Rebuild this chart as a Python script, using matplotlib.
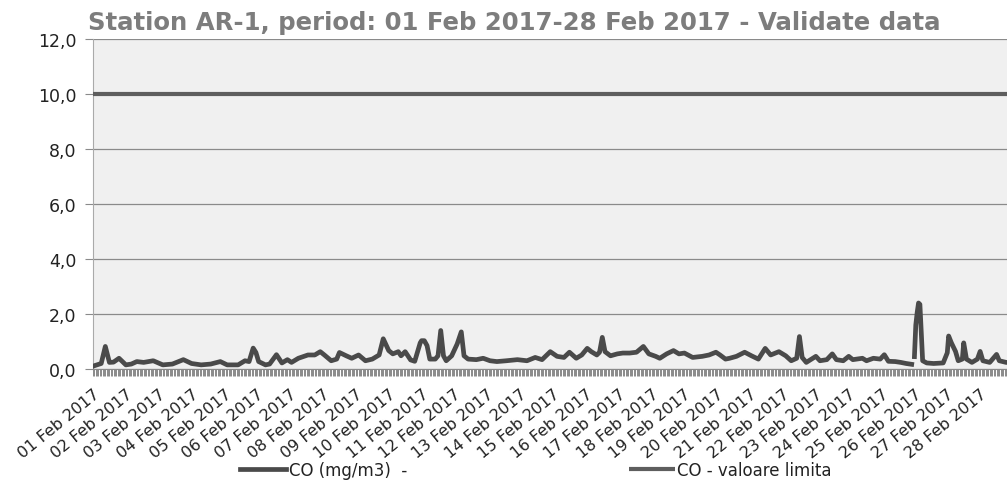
import matplotlib
matplotlib.use("Agg")
import matplotlib.pyplot as plt
import numpy as np

# ---------------- data ----------------
title = "Station AR-1, period: 01 Feb 2017-28 Feb 2017 - Validate data"

# hours since 01 Feb 2017 00:00 and CO concentration (mg/m3)
co_hours = [0, 1, 6, 9, 12, 15, 19, 24, 28, 32, 37, 44, 51, 58, 66, 72, 79, 86, 93, 98,
            106, 111, 114, 117, 119, 121, 126, 129, 134, 138, 142, 145, 150, 157, 162, 166,
            169, 174, 178, 180, 185, 189, 194, 199, 204, 209, 212, 216, 219, 223, 225, 228,
            232, 235, 239, 240, 242, 244, 246, 250, 252, 254, 256, 258, 262, 266, 269, 271,
            274, 280, 285, 290, 295, 302, 310, 317, 323, 328, 334, 339, 344, 348, 353, 357,
            361, 364, 368, 370, 372, 374, 378, 383, 387, 392, 397, 402, 406, 411, 414, 419,
            424, 428, 432, 438, 445, 450, 455, 458, 462, 465, 470, 476, 481, 486, 491, 495,
            501, 506, 510, 514, 516, 518, 521, 528, 531, 536, 540, 543, 548, 552, 555, 562,
            565, 570, 575, 578, 581, 586, 590, 594, 598, 599, 600, 601, 602, 603, 604, 605,
            606, 609, 614, 621, 624, 625, 627, 630, 632, 635, 636, 638, 642, 646, 648, 650,
            655, 660, 662, 667, 672]
co_values = [0.10, 0.12, 0.20, 0.82, 0.24, 0.25, 0.39, 0.15, 0.18, 0.27, 0.24, 0.30, 0.15, 0.18,
             0.34, 0.20, 0.15, 0.18, 0.27, 0.15, 0.15, 0.30, 0.27, 0.76, 0.60, 0.27, 0.15, 0.18,
             0.52, 0.22, 0.34, 0.24, 0.39, 0.51, 0.51, 0.63, 0.51, 0.30, 0.36, 0.60, 0.48, 0.39,
             0.51, 0.30, 0.36, 0.51, 1.10, 0.67, 0.55, 0.63, 0.48, 0.63, 0.33, 0.28, 0.95, 1.03,
             1.03, 0.85, 0.36, 0.36, 0.48, 1.40, 0.48, 0.30, 0.48, 0.91, 1.35, 0.48, 0.36, 0.34,
             0.39, 0.30, 0.27, 0.30, 0.34, 0.30, 0.42, 0.34, 0.63, 0.46, 0.42, 0.61, 0.39, 0.51,
             0.75, 0.63, 0.51, 0.61, 1.15, 0.63, 0.48, 0.55, 0.58, 0.58, 0.61, 0.82, 0.55, 0.46,
             0.39, 0.55, 0.67, 0.55, 0.58, 0.42, 0.46, 0.51, 0.61, 0.51, 0.36, 0.39, 0.46, 0.61,
             0.48, 0.36, 0.75, 0.51, 0.63, 0.48, 0.30, 0.39, 1.18, 0.42, 0.24, 0.46, 0.30, 0.34,
             0.55, 0.34, 0.30, 0.46, 0.34, 0.39, 0.30, 0.39, 0.36, 0.52, 0.28, 0.27, 0.24, 0.20,
             0.17, np.nan, 0.45, 1.60, 2.05, 2.40, 2.35, 1.30, 0.30, 0.22, 0.20, 0.22, 0.59, 1.20,
             0.95, 0.64, 0.30, 0.36, 0.95, 0.36, 0.24, 0.36, 0.64, 0.30, 0.24, 0.53, 0.30, 0.24,
             0.24]

limit_value = 10.0

day_labels = ["01 Feb 2017", "02 Feb 2017", "03 Feb 2017", "04 Feb 2017", "05 Feb 2017",
              "06 Feb 2017", "07 Feb 2017", "08 Feb 2017", "09 Feb 2017", "10 Feb 2017",
              "11 Feb 2017", "12 Feb 2017", "13 Feb 2017", "14 Feb 2017", "15 Feb 2017",
              "16 Feb 2017", "17 Feb 2017", "18 Feb 2017", "19 Feb 2017", "20 Feb 2017",
              "21 Feb 2017", "22 Feb 2017", "23 Feb 2017", "24 Feb 2017", "25 Feb 2017",
              "26 Feb 2017", "27 Feb 2017", "28 Feb 2017"]
y_ticks = [0, 2, 4, 6, 8, 10, 12]
y_labels = ["0,0", "2,0", "4,0", "6,0", "8,0", "10,0", "12,0"]
legend_labels = ["CO (mg/m3)  -", "CO - valoare limita"]

# ---------------- figure ----------------
W, H = 1007, 485
fig = plt.figure(figsize=(W / 100, H / 100), dpi=100)
plt.rcParams['font.family'] = ['DejaVu Sans']

left, right, top, bottom = 93, 1013, 40, 370
ax = fig.add_axes([left / W, 1 - bottom / H, (right - left) / W, (bottom - top) / H])
ax.set_facecolor('#f0f0f0')

n_hours = 24 * len(day_labels)
limit_hours = [0, n_hours]
l2, = ax.plot(limit_hours, [limit_value] * 2, color='#5e5e5e', lw=3.0, solid_capstyle='butt', zorder=3)
l1, = ax.plot(co_hours, co_values, color='#4a4a4a', lw=3.4, solid_joinstyle='round', zorder=4)

ax.set_xlim(0, n_hours)
ax.set_ylim(0, 12)
ax.set_yticks(y_ticks)
ax.set_yticklabels(y_labels, fontsize=12.5, color='#222222')
ax.grid(axis='y', color='#8a8a8a', lw=0.9, zorder=1)
ax.set_axisbelow(True)

ax.set_xticks(np.arange(len(day_labels)) * 24)
ax.set_xticklabels(day_labels, rotation=39, ha='right', va='top', rotation_mode='anchor',
                   fontsize=11.5, color='#222222')
ax.set_xticks(np.arange(0, n_hours + 1, 1), minor=True)
ax.tick_params(axis='x', which='both', length=5, width=0.7, color='#8a8a8a', pad=7)
ax.tick_params(axis='y', length=6, width=0.8, color='#8a8a8a', pad=6)

for s in ['top', 'right']:
    ax.spines[s].set_visible(False)
ax.spines['left'].set_color('#aaaaaa')
ax.spines['bottom'].set_color('#8a8a8a')

fig.text(88 / W, 1 - 30 / H, title, fontsize=17.6, fontweight='bold', color='#7d7d7d',
         ha='left', va='baseline')

fig.legend([l1, l2], legend_labels, loc='center', bbox_to_anchor=(536 / W, 1 - 471 / H),
           ncol=2, frameon=False, fontsize=12, handlelength=2.75, handletextpad=0.15,
           columnspacing=13.3, labelcolor='#222222')

fig.savefig('out.png', dpi=100)
